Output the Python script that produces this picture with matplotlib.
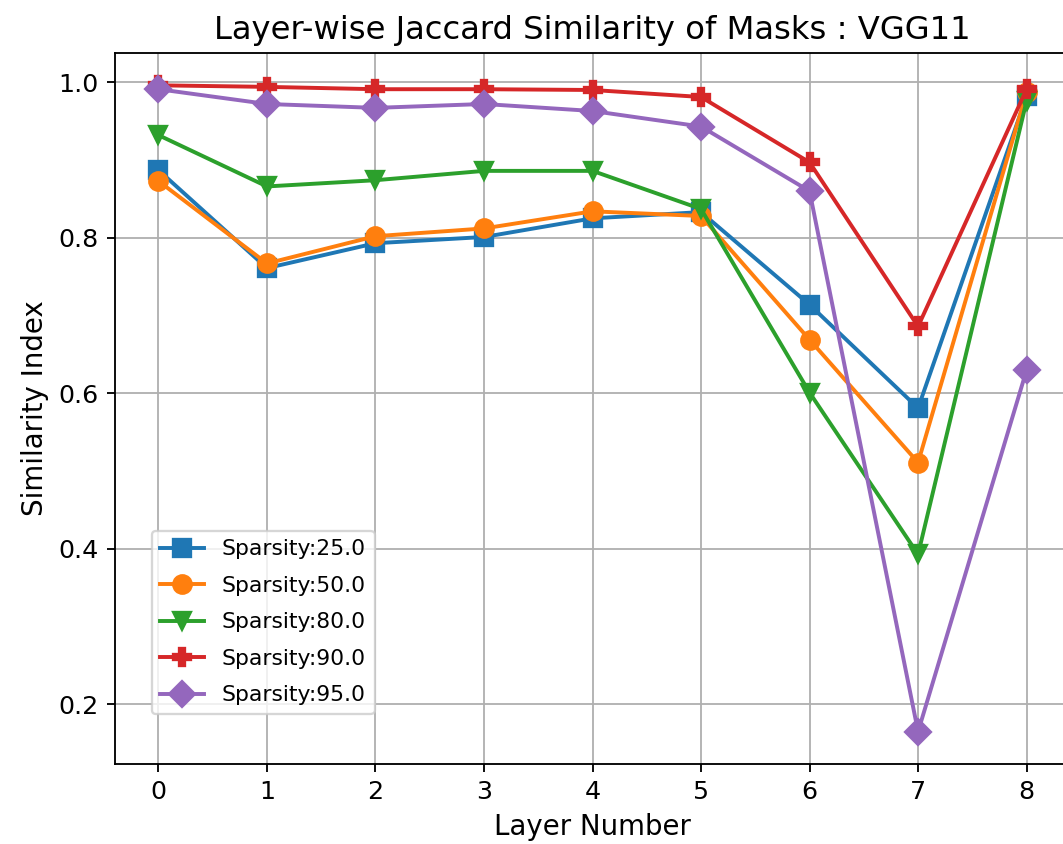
import numpy as np
import matplotlib
matplotlib.use('Agg')
import matplotlib.pyplot as plt

# Capas y similitud de Jaccard por nivel de sparsity
capas = np.arange(9)
sparsity_25 = [0.887, 0.761, 0.793, 0.801, 0.825, 0.833, 0.714, 0.581, 0.982]
sparsity_50 = [0.873, 0.767, 0.802, 0.812, 0.834, 0.828, 0.669, 0.511, 0.987]
sparsity_80 = [0.932, 0.866, 0.874, 0.886, 0.886, 0.837, 0.601, 0.393, 0.976]
sparsity_90 = [0.996, 0.994, 0.991, 0.991, 0.990, 0.981, 0.897, 0.686, 0.991]
sparsity_95 = [0.991, 0.972, 0.967, 0.972, 0.963, 0.943, 0.860, 0.165, 0.630]

series = [
    ('Sparsity:25.0', sparsity_25, 's'),
    ('Sparsity:50.0', sparsity_50, 'o'),
    ('Sparsity:80.0', sparsity_80, 'v'),
    ('Sparsity:90.0', sparsity_90, 'P'),
    ('Sparsity:95.0', sparsity_95, 'D'),
]

fig = plt.figure(figsize=(1063 / 166, 844 / 166), dpi=166)
ax = fig.add_axes([115 / 1063, 1 - 764 / 844, 955 / 1063, 711 / 844])

for etiqueta, valores, marcador in series:
    ax.plot(capas, valores, marker=marcador, markersize=8, linewidth=1.7, label=etiqueta)

ax.set_xlim(-0.4, 8.4)
ax.set_title('Layer-wise Jaccard Similarity of Masks : VGG11', fontsize=14)
ax.set_xlabel('Layer Number', fontsize=12)
ax.set_ylabel('Similarity Index', fontsize=12)
ax.tick_params(labelsize=11)
ax.grid(True)
ax.legend(loc='lower left', bbox_to_anchor=(0.027, 0.055), fontsize=9.5, labelspacing=0.75)

fig.savefig('out.png', dpi=166)
